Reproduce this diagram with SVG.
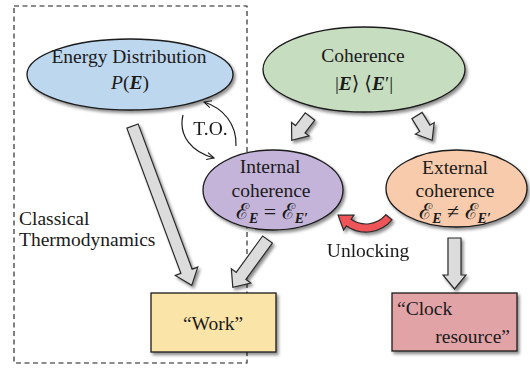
<svg xmlns="http://www.w3.org/2000/svg" width="530" height="368" viewBox="0 0 530 368">
<style>
text{font-family:'Liberation Serif','Times New Roman',Times,'DejaVu Serif',serif;font-size:19.5px;fill:#1a1a1a}
.bi{font-weight:bold;font-style:italic}
.it{font-style:italic}
.mx{font-size:22px}
.sub{font-size:14px;font-weight:bold;font-style:italic}
.node{stroke:#1a1a1a;stroke-width:1.3}
.blk{fill:#dcdcdc;stroke:#2a2a2a;stroke-width:1.2;stroke-linejoin:miter}
.thin{fill:none;stroke:#1a1a1a;stroke-width:1.2}
</style>
<defs>
<filter id="sh" x="-20%" y="-20%" width="140%" height="140%">
<feDropShadow dx="2" dy="2.5" stdDeviation="1.5" flood-color="#000" flood-opacity="0.45"/>
</filter>
<marker id="v" viewBox="0 0 10 10" refX="9" refY="5" markerWidth="9" markerHeight="9" orient="auto" markerUnits="userSpaceOnUse">
<path d="M1,1 L9,5 L1,9" fill="none" stroke="#1a1a1a" stroke-width="1.2"/>
</marker>
</defs>
<rect width="530" height="368" fill="#fff"/>

<g id="classical">
<rect x="14" y="6" width="233" height="357" fill="none" stroke="#1a1a1a" stroke-width="1.1" stroke-dasharray="5,3.5"/>
<text x="19" y="225">Classical</text>
<text x="19" y="246">Thermodynamics</text>
</g>

<g id="energy">
<ellipse class="node" cx="130" cy="74.5" rx="103" ry="35.5" fill="#bdd7ee" filter="url(#sh)"/>
<text x="129" y="63" text-anchor="middle" font-size="20">Energy Distribution</text>
<text x="130" y="89" text-anchor="middle" font-size="20.5"><tspan class="it">P</tspan>(<tspan class="bi">E</tspan>)</text>
</g>

<g id="coherence">
<ellipse class="node" cx="364" cy="69.5" rx="101" ry="42.5" fill="#c7ddc0" filter="url(#sh)"/>
<text x="363" y="62" text-anchor="middle">Coherence</text>
<text x="364" y="90" text-anchor="middle" font-size="20.5">|<tspan class="bi">E</tspan>⟩ ⟨<tspan class="bi">E</tspan>′|</text>
</g>

<g id="internal">
<ellipse class="node" cx="273" cy="190" rx="70" ry="40" fill="#c5b4d9" filter="url(#sh)"/>
<text x="270" y="173" text-anchor="middle">Internal</text>
<text x="271" y="197" text-anchor="middle">coherence</text>
<text class="mx" x="272" y="219" text-anchor="middle">ℰ<tspan class="sub" dy="4">E</tspan><tspan dy="-4"> = ℰ</tspan><tspan class="sub" dy="4">E′</tspan></text>
</g>

<g id="external">
<ellipse class="node" cx="456.5" cy="188.5" rx="70.5" ry="38.5" fill="#f8cbad" filter="url(#sh)"/>
<text x="455" y="174" text-anchor="middle">External</text>
<text x="455" y="197" text-anchor="middle">coherence</text>
<text class="mx" x="455" y="219" text-anchor="middle">ℰ<tspan class="sub" dy="4">E</tspan><tspan dy="-4"> ≠ ℰ</tspan><tspan class="sub" dy="4">E′</tspan></text>
</g>

<g id="work">
<rect class="node" x="151" y="293" width="125" height="59" fill="#fae4a8" filter="url(#sh)"/>
<text x="213" y="330" text-anchor="middle" font-size="20">“Work”</text>
</g>

<g id="clock">
<rect class="node" x="392" y="293" width="125" height="58" fill="#e2a3a6" filter="url(#sh)"/>
<text x="397" y="315" font-size="20">“Clock</text>
<text x="510" y="343" text-anchor="end" font-size="20">resource”</text>
</g>

<g id="connectors">
<g filter="url(#sh)">
<path class="blk" transform="translate(132.5,126) rotate(69.6)" d="M0,-6 L155,-6 L155,-12 L170,0 L155,12 L155,6 L0,6Z"/>
<path class="blk" transform="translate(267.5,239.5) rotate(126)" d="M0,-6 L45,-6 L45,-12 L59,0 L45,12 L45,6 L0,6Z"/>
<path class="blk" transform="translate(310,116.5) rotate(127.5)" d="M0,-6 L16,-6 L16,-11 L30,0 L16,11 L16,6 L0,6Z"/>
<path class="blk" transform="translate(417,115.5) rotate(58.5)" d="M0,-6 L15,-6 L15,-11 L29,0 L15,11 L15,6 L0,6Z"/>
<path class="blk" transform="translate(454.5,238) rotate(90)" d="M0,-6.5 L37,-6.5 L37,-11.5 L51,0 L37,11.5 L37,6.5 L0,6.5Z"/>
<path d="M392,219.9 A34,34 0 0,1 346.5,225.9 L343.6,229.9 L338.1,215.1 L354,215.2 L351.1,219.3 A26,26 0 0,0 385.9,214.7 Z" fill="#ef5459" stroke="#2a2a2a" stroke-width="1.2"/>
</g>
<path class="thin" d="M183,115 C178,136 192,152 214,158" marker-end="url(#v)"/>
<path class="thin" d="M236,146 C237,124 223,108 204,102" marker-end="url(#v)"/>
<text x="210.5" y="135" text-anchor="middle">T.O.</text>
<text x="368" y="257" text-anchor="middle">Unlocking</text>
</g>
</svg>
